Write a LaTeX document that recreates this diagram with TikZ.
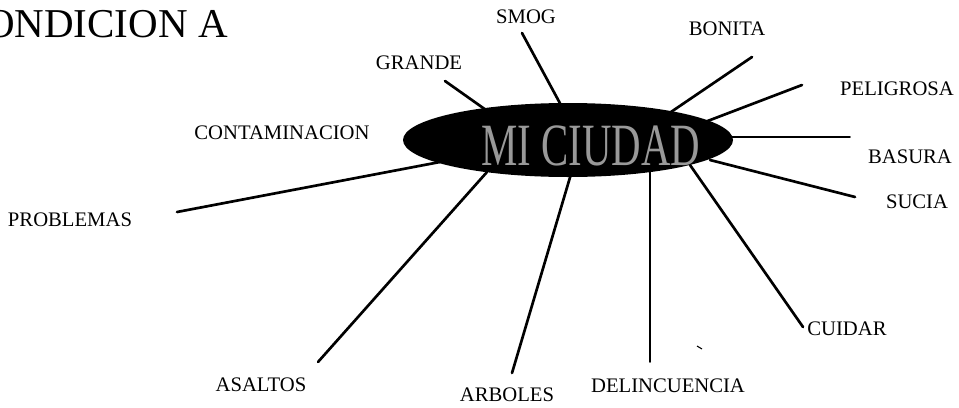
\documentclass[tikz,border=0pt]{standalone}
\usepackage{fontspec}
\setmainfont{Liberation Serif}
\usetikzlibrary{shapes.geometric}
\begin{document}
\begin{tikzpicture}[x=0.75pt,y=-0.75pt,
  lbl/.style={inner sep=0pt, font=\fontsize{15.5}{18}\selectfont},
  spoke/.style={line width=2pt, line cap=round},
  thinspoke/.style={line width=1.4pt, line cap=round}]
\useasboundingbox (0,0) rectangle (959,407);
\node[anchor=base east, inner sep=0pt, font=\fontsize{30.75}{36}\selectfont] (title) at (228,37) {CONDICION A};

% labels
\node[lbl] (smog) at (526,17) {SMOG};
\node[lbl] (grande) at (419,63) {GRANDE};
\node[lbl] (bonita) at (727,29) {BONITA};
\node[lbl] (peligrosa) at (897,89) {PELIGROSA};
\node[lbl] (contam) at (282,133) {CONTAMINACION};
\node[lbl] (basura) at (910,157) {BASURA};
\node[lbl] (sucia) at (917,202) {SUCIA};
\node[lbl] (problemas) at (70,220) {PROBLEMAS};
\node[lbl] (cuidar) at (847,329) {CUIDAR};
\node[lbl] (asaltos) at (261,385) {ASALTOS};
\node[lbl] (arboles) at (507,395) {ARBOLES};
\node[lbl] (delinc) at (668,386) {DELINCUENCIA};

% spoke ends
\coordinate (gA) at (445,81);  \coordinate (gB) at (486,110);
\coordinate (sA) at (522,33);  \coordinate (sB) at (562,107);
\coordinate (bA) at (752,57);  \coordinate (bB) at (668,114);
\coordinate (pA) at (802,85);  \coordinate (pB) at (705,122);
\coordinate (uA) at (850,137); \coordinate (uB) at (728,137);
\coordinate (cA) at (855,197); \coordinate (cB) at (710,160);
\coordinate (dA) at (803,327); \coordinate (dB) at (690,165);
\coordinate (eA) at (650,362); \coordinate (eB) at (650,170);
\coordinate (rA) at (512,373); \coordinate (rB) at (571,174);
\coordinate (aA) at (318,362); \coordinate (aB) at (487,172);
\coordinate (oA) at (177,212); \coordinate (oB) at (440,162);
\coordinate (spA) at (697,346); \coordinate (spB) at (702,349);

\draw[spoke] (gA) -- (gB);
\draw[spoke] (sA) -- (sB);
\draw[spoke] (bA) -- (bB);
\draw[spoke] (pA) -- (pB);
\draw[thinspoke] (uA) -- (uB);
\draw[spoke] (cA) -- (cB);
\draw[spoke] (dA) -- (dB);
\draw[thinspoke] (eA) -- (eB);
\draw[spoke] (rA) -- (rB);
\draw[spoke] (aA) -- (aB);
\draw[spoke] (oA) -- (oB);
\draw[line width=0.8pt] (spA) -- (spB);

% central ellipse
\node[ellipse, fill=black, minimum width=247.5pt, minimum height=55.5pt, inner sep=0pt] (city) at (568,140) {};
\node[inner sep=0pt, text=black!40, xscale=0.68, font=\fontsize{45}{50}\selectfont] (citytext) at (591,146) {MI CIUDAD};
\end{tikzpicture}
\end{document}
